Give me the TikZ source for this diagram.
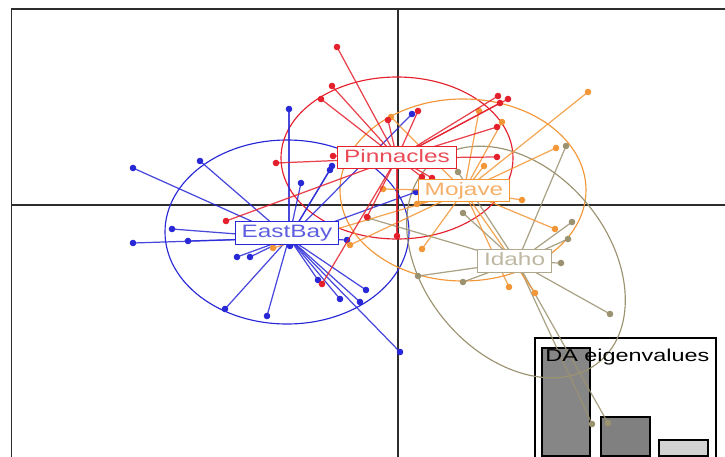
\documentclass[tikz,border=0pt]{standalone}
\usepackage{fontspec}
\setmainfont{Liberation Sans}
\usepackage{graphicx}
\definecolor{popEastBay}{RGB}{40,40,215}
\definecolor{popPinnacles}{RGB}{228,32,45}
\definecolor{popMojave}{RGB}{242,150,55}
\definecolor{popIdaho}{RGB}{155,146,112}
\definecolor{axisGray}{RGB}{45,45,45}
\newcommand{\widetext}[1]{\scalebox{1.36}[1]{#1}}

\begin{document}
\begin{tikzpicture}[x=0.02cm,y=-0.02cm,
  grpline/.style={line width=0.7pt,opacity=0.85},
  grpell/.style={line width=0.65pt},
  grplabel/.style={draw,fill=white,line width=0.6pt,inner xsep=3.7pt,inner ysep=1.6pt,
    text height=7.4pt,text depth=2.2pt,font=\fontsize{10.2}{10.2}\selectfont},
  eigbar/.style={draw=black,line width=0.6pt}]
\path[use as bounding box] (0,0) rectangle (725,457);
\clip (0,0) rectangle (725,457);

% frame and axes
\draw[axisGray,line width=0.7pt] (11.5,9) rectangle (760,500);
\draw[axisGray,line width=0.6pt] (11.5,205) -- (725,205);
\draw[axisGray,line width=0.6pt] (398,9) -- (398,457);

% eigenvalues inset
\draw[black,line width=0.6pt] (535,338) rectangle (716,470);
\fill[gray,fill opacity=0.95] (542,348) rectangle (590,456);
\draw[eigbar] (542,348) rectangle (590,456);
\draw[eigbar,fill=gray] (601,417) rectangle (650,456);
\draw[eigbar,fill=gray!35] (659,440) rectangle (708,456);

% group centres
\coordinate (cEastBay) at (289,238);
\coordinate (cPinnacles) at (397,158);
\coordinate (cMojave) at (464,191);
\coordinate (cIdaho) at (517,262);

% inertia ellipses
\draw[grpell,popEastBay] (287,232) ellipse [x radius=122,y radius=92];
\draw[grpell,popPinnacles] (397,158) ellipse [x radius=116,y radius=81];
\draw[grpell,popMojave] (463,190) ellipse [x radius=123,y radius=91];
\draw[grpell,popIdaho,rotate around={-50:(516,262)}] (516,262) ellipse [x radius=130,y radius=92];

% EastBay
\foreach \px/\py [count=\i] in {133/168,200/161,289/109,172/229,133/243,188/241,237/257,250/257,
  225/309,267/316,301/183,330/170,332/166,412/114,347/240,318/280,340/299,360/302,366/290,
  400/352,416/192,290/246}{
  \coordinate (eb\i) at (\px,\py);
  \draw[grpline,popEastBay] (cEastBay) -- (eb\i);
  \fill[popEastBay] (eb\i) circle (3.3);
}

% Idaho
\foreach \px/\py [count=\i] in {566/146,458/172,572/222,568/239,561/263,418/276,463/282,
  610/314,463/213,592/424,608/423,368/218}{
  \coordinate (id\i) at (\px,\py);
  \draw[grpline,popIdaho] (cIdaho) -- (id\i);
  \fill[popIdaho] (id\i) circle (3.3);
}

% Mojave
\foreach \px/\py [count=\i] in {588/92,556/148,522/200,555/229,422/249,350/245,509/287,
  535/293,391/117,502/122,479/111,484/166,383/189,417/204,273/248}{
  \coordinate (mj\i) at (\px,\py);
  \draw[grpline,popMojave] (cMojave) -- (mj\i);
  \fill[popMojave] (mj\i) circle (3.3);
}

% Pinnacles
\foreach \px/\py [count=\i] in {337/47,332/86,321/99,276/163,333/156,226/221,418/111,
  388/120,498/96,508/99,500/103,497/127,497/157,367/217,397/236,322/284,422/177,432/178}{
  \coordinate (pn\i) at (\px,\py);
  \draw[grpline,popPinnacles] (cPinnacles) -- (pn\i);
  \fill[popPinnacles] (pn\i) circle (3.3);
}

% group labels
\node[grplabel,draw=popEastBay,text=popEastBay!75] (lEastBay) at (287,233) {\widetext{EastBay}};
\node[grplabel,draw=popPinnacles,text=popPinnacles!80] (lPinnacles) at (397,157.5) {\widetext{Pinnacles}};
\node[grplabel,draw=popMojave,text=popMojave!75] (lMojave) at (464,190.5) {\widetext{Mojave}};
\node[grplabel,draw=popIdaho!80,text=popIdaho!65] (lIdaho) at (514.6,261) {\widetext{Idaho}};

\node[anchor=base west,inner sep=0pt,font=\fontsize{9.8}{9.8}\selectfont] (eigTitle) at (545,361.5) {\widetext{DA eigenvalues}};
\end{tikzpicture}
\end{document}
